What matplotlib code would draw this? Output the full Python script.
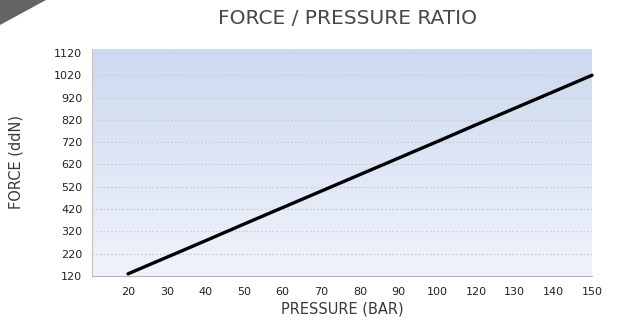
import numpy as np
import matplotlib
matplotlib.use("Agg")
import matplotlib.pyplot as plt
from matplotlib.patches import Polygon

# data (category axis, evenly spaced labels)
pressure = [20, 30, 40, 50, 60, 70, 80, 90, 100, 120, 130, 140, 150]
force = [130, 204, 278, 353, 427, 501, 575, 649, 723, 798, 872, 946, 1020]
y_ticks = [120, 220, 320, 420, 520, 620, 720, 820, 920, 1020, 1120]

plt.rcParams['font.family'] = ['DejaVu Sans']

fig = plt.figure(figsize=(6.18, 3.24), dpi=100)
ax = fig.add_axes([0.149, 0.148, 0.809, 0.701])

# corner decoration
corner = Polygon([[0, 1], [46 / 618, 1], [0, 1 - 25 / 324]], closed=True,
                 transform=fig.transFigure, facecolor='#646464', edgecolor='none')
fig.patches.append(corner)

x = np.arange(len(pressure))
x_left = -0.93

# vertical gradient background
grad = np.linspace(0, 1, 256).reshape(-1, 1)
top = np.array([205, 217, 240]) / 255
bottom = np.array([239, 243, 251]) / 255
img = top + (bottom - top) * grad[:, :, None] * np.ones((1, 1, 3))
ax.imshow(img.reshape(256, 1, 3), aspect='auto', extent=[x_left, x[-1], 120, 1138],
          origin='upper', zorder=0)

ax.plot(x, force, color='black', linewidth=2.4, solid_capstyle='round',
        zorder=3, clip_on=False)

ax.set_xlim(x_left, x[-1])
ax.set_ylim(120, 1138)
ax.set_xticks(x)
ax.set_xticklabels([str(p) for p in pressure])
ax.set_yticks(y_ticks)
ax.set_yticklabels([str(v) for v in y_ticks])

for v in y_ticks[1:]:
    ax.axhline(v, color='#c9c9c9', linestyle=(0, (1.2, 1.8)), linewidth=0.9, zorder=1)

for s in ['top', 'right']:
    ax.spines[s].set_visible(False)
ax.spines['left'].set_color('#c4c4c4')
ax.spines['bottom'].set_color('#b4b4b4')
ax.tick_params(axis='both', length=0, labelsize=8, colors='#222222')
ax.tick_params(axis='y', pad=7)
ax.tick_params(axis='x', pad=8)

ax.set_xlabel('PRESSURE (BAR)', fontsize=10.5, color='#3a3a3a', labelpad=3)
ax.set_ylabel('FORCE (ddN)', fontsize=10.5, color='#3a3a3a', labelpad=22)
fig.text(347 / 618, 1 - 19 / 324, 'FORCE / PRESSURE RATIO', fontsize=14.5,
         color='#484848', ha='center', va='center')

fig.savefig('out.png', dpi=100)
